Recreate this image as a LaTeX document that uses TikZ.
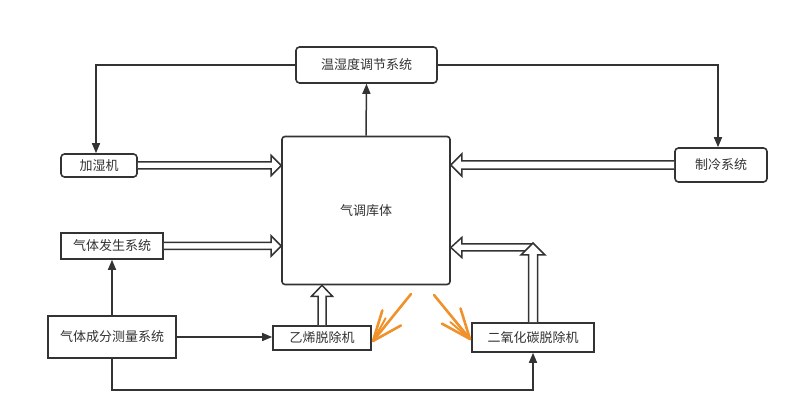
\documentclass[tikz,border=0pt]{standalone}
\usepackage{fontspec}
\setmainfont{Noto Sans CJK SC}
\usetikzlibrary{calc,arrows.meta}
\definecolor{ink}{HTML}{333333}
\definecolor{orng}{HTML}{F0922B}
\newcommand\hollowarrow[5]{% from #1 to #2, shaft half #3, head half #4, head length #5
  \draw[hollowline] ($(#1)!#3!90:(#2)$) -- ($(#2)!#5!(#1)!#3!-90:(#1)$) -- ($(#2)!#5!(#1)!#4!-90:(#1)$) -- (#2) -- ($(#2)!#5!(#1)!#4!90:(#1)$) -- ($(#2)!#5!(#1)!#3!90:(#1)$) -- ($(#1)!#3!-90:(#2)$);}
\newcommand\sketcharrow[2]{% orange open arrow from #1 to #2
  \draw[orline] (#1) -- (#2);
  \draw[orline] ($(#2)!32pt!22:(#1)$) -- (#2) -- ($(#2)!32pt!-22:(#1)$);
  \draw[orline,line width=2pt] ($(#2)!26pt!10:(#1)$) -- (#2);}
\begin{document}
\begin{tikzpicture}[x=1pt,y=-1pt,
  box/.style={draw=ink,line width=1.6pt,fill=white,text=ink,inner sep=0pt,font=\fontsize{13}{15}\selectfont},
  rbox/.style={box,rounded corners=3.5pt},
  conn/.style={draw=ink,line width=1.5pt,-{Triangle[length=10pt,width=8pt]}},
  hollowline/.style={draw=ink,line width=1.5pt,fill=white,line join=miter},
  orline/.style={draw=orng,line width=2.6pt,line cap=round,line join=round}]
\useasboundingbox (0,0) rectangle (799,419);
\node[rbox,minimum width=141pt,minimum height=36pt] (wsd) at (366.5,65) {温湿度调节系统};
\node[rbox,minimum width=76pt,minimum height=23pt] (jsj) at (99,165.5) {加湿机};
\node[rbox,minimum width=92pt,minimum height=34pt] (zl) at (721,165) {制冷系统};
\node[rbox,rounded corners=3pt,minimum width=168pt,minimum height=148pt] (ku) at (366,210.5) {气调库体};
\node[box,minimum width=102pt,minimum height=26pt] (qtfs) at (112,246) {气体发生系统};
\node[box,minimum width=128pt,minimum height=42pt] (cl) at (112,337) {气体成分测量系统};
\node[box,minimum width=98pt,minimum height=24pt] (yx) at (322,338) {乙烯脱除机};
\node[box,minimum width=122pt,minimum height=29pt] (co2) at (533,337.5) {二氧化碳脱除机};
% thin connectors
\coordinate (jtop) at ($(jsj.north)+(-3,0)$);
\coordinate (ztop) at ($(zl.north)+(-3,0)$);
\draw[conn] (wsd.west) -| (jtop);
\draw[conn] (wsd.east) -| (ztop);
\draw[conn] (ku.north) -- (wsd.south);
\draw[conn] (qtfs.south |- cl.north) -- (qtfs.south);
\draw[conn] (cl.east) -- (cl.east -| yx.west);
\draw[conn] (cl.south) -- ++(0,31) -| (co2.south);
% hollow arrows
\coordinate (a1) at (ku.west |- jsj.east);
\coordinate (a2) at (ku.east |- zl.west);
\coordinate (a3) at (ku.west |- qtfs.east);
\coordinate (a4) at (yx.north |- ku.south);
\coordinate (c2h) at (533,247.5);
\coordinate (a5) at (ku.east |- c2h);
\coordinate (c2t) at (533,243);
\hollowarrow{jsj.east}{a1}{3.5pt}{10pt}{10pt}
\hollowarrow{zl.west}{a2}{4.2pt}{11pt}{11pt}
\hollowarrow{qtfs.east}{a3}{3.5pt}{10pt}{10pt}
\hollowarrow{yx.north}{a4}{4pt}{10.5pt}{11pt}
\hollowarrow{c2h}{a5}{3.5pt}{10pt}{11pt}
\hollowarrow{co2.north}{c2t}{4.5pt}{12pt}{12pt}
% orange arrows
\coordinate (o1s) at (411,294);
\coordinate (o1e) at (373,341);
\coordinate (o2s) at (434,295);
\coordinate (o2e) at (470,339);
\sketcharrow{o1s}{o1e}
\sketcharrow{o2s}{o2e}
\end{tikzpicture}
\end{document}
